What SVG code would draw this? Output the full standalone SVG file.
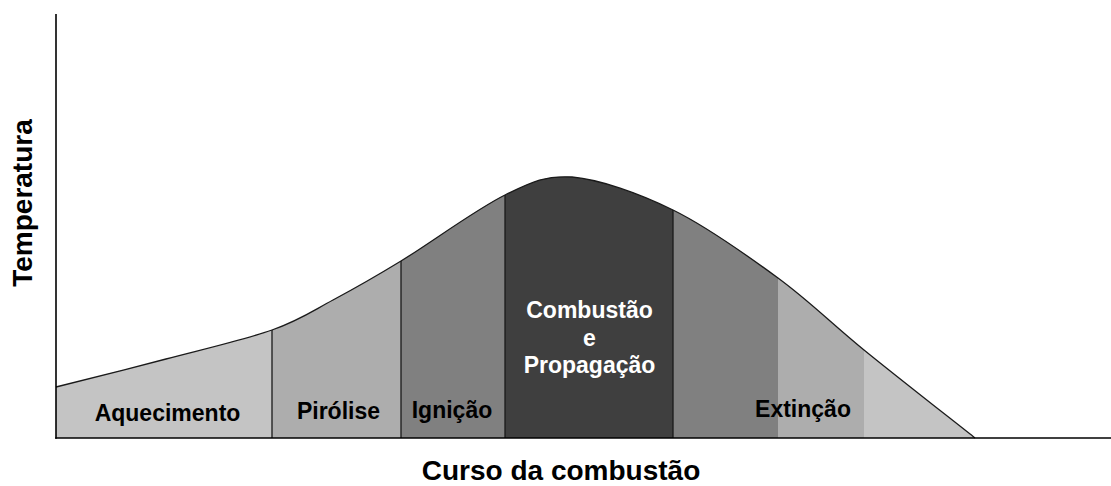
<svg xmlns="http://www.w3.org/2000/svg" width="1111" height="486" viewBox="0 0 1111 486">
<style>
.lbl{font-family:"Liberation Sans",Arial,sans-serif;font-weight:bold;font-size:23px;fill:#000;text-anchor:middle}
.wht{fill:#fff}
.ax{font-family:"Liberation Sans",Arial,sans-serif;font-weight:bold;fill:#000;text-anchor:middle}
.div{stroke:#1a1a1a;stroke-width:1.3;fill:none}
.axis{stroke:#000;stroke-width:1.6;fill:none}
</style>
<defs>
<clipPath id="area">
<path d="M56,387 C74.3,382.3 130,368.5 166,359 C202,349.5 244.2,339.8 272,330 C299.8,320.2 311.5,311.5 333,300 C354.5,288.5 372.3,278.5 401,261 C429.7,243.5 476.5,209 505,195 C533.5,181 546,175.5 572,177 C600,179.5 638.7,193.2 673,210 C707.3,226.8 746.2,254.7 778,278 C809.8,301.3 831.2,323.3 864,350 C896.8,376.7 956.5,423.3 975,438 L56,438 Z"/>
</clipPath>
</defs>
<rect width="1111" height="486" fill="#fff"/>
<g clip-path="url(#area)">
<rect id="fill-aquecimento" x="56" y="150" width="216" height="288" fill="#c4c4c4"/>
<rect id="fill-pirolise" x="272" y="150" width="129" height="288" fill="#adadad"/>
<rect id="fill-ignicao" x="401" y="150" width="104" height="288" fill="#808080"/>
<rect id="fill-combustao" x="505" y="150" width="168" height="288" fill="#3f3f3f"/>
<rect id="fill-ext1" x="673" y="150" width="105" height="288" fill="#808080"/>
<rect id="fill-ext2" x="778" y="150" width="86" height="288" fill="#adadad"/>
<rect id="fill-ext3" x="864" y="150" width="120" height="288" fill="#c4c4c4"/>
</g>
<g id="connectors">
<path class="div" d="M56,387 C74.3,382.3 130,368.5 166,359 C202,349.5 244.2,339.8 272,330 C299.8,320.2 311.5,311.5 333,300 C354.5,288.5 372.3,278.5 401,261 C429.7,243.5 476.5,209 505,195 C533.5,181 546,175.5 572,177 C600,179.5 638.7,193.2 673,210 C707.3,226.8 746.2,254.7 778,278 C809.8,301.3 831.2,323.3 864,350 C896.8,376.7 956.5,423.3 975,438"/>
<line class="div" x1="272" y1="330" x2="272" y2="438"/>
<line class="div" x1="401" y1="261" x2="401" y2="438"/>
<line class="div" x1="505" y1="195" x2="505" y2="438"/>
<line class="div" x1="673" y1="210" x2="673" y2="438"/>
<line class="axis" x1="56" y1="14" x2="56" y2="438.8"/>
<line class="axis" x1="55.2" y1="438" x2="1111" y2="438"/>
</g>
<g id="aquecimento"><text class="lbl" x="167.5" y="421">Aquecimento</text></g>
<g id="pirolise"><text class="lbl" x="338.5" y="419">Pirólise</text></g>
<g id="ignicao"><text class="lbl" x="452" y="418">Ignição</text></g>
<g id="combustao">
<text class="lbl wht" x="589.5" y="318">Combustão</text>
<text class="lbl wht" x="589.5" y="346">e</text>
<text class="lbl wht" x="589.5" y="373">Propagação</text>
</g>
<g id="extincao"><text class="lbl" x="803" y="417">Extinção</text></g>
<g id="eixo-x"><text class="ax" x="561" y="480" font-size="28">Curso da combustão</text></g>
<g id="eixo-y"><text class="ax" x="32" y="203" font-size="28" transform="rotate(-90 32 203)">Temperatura</text></g>
</svg>
